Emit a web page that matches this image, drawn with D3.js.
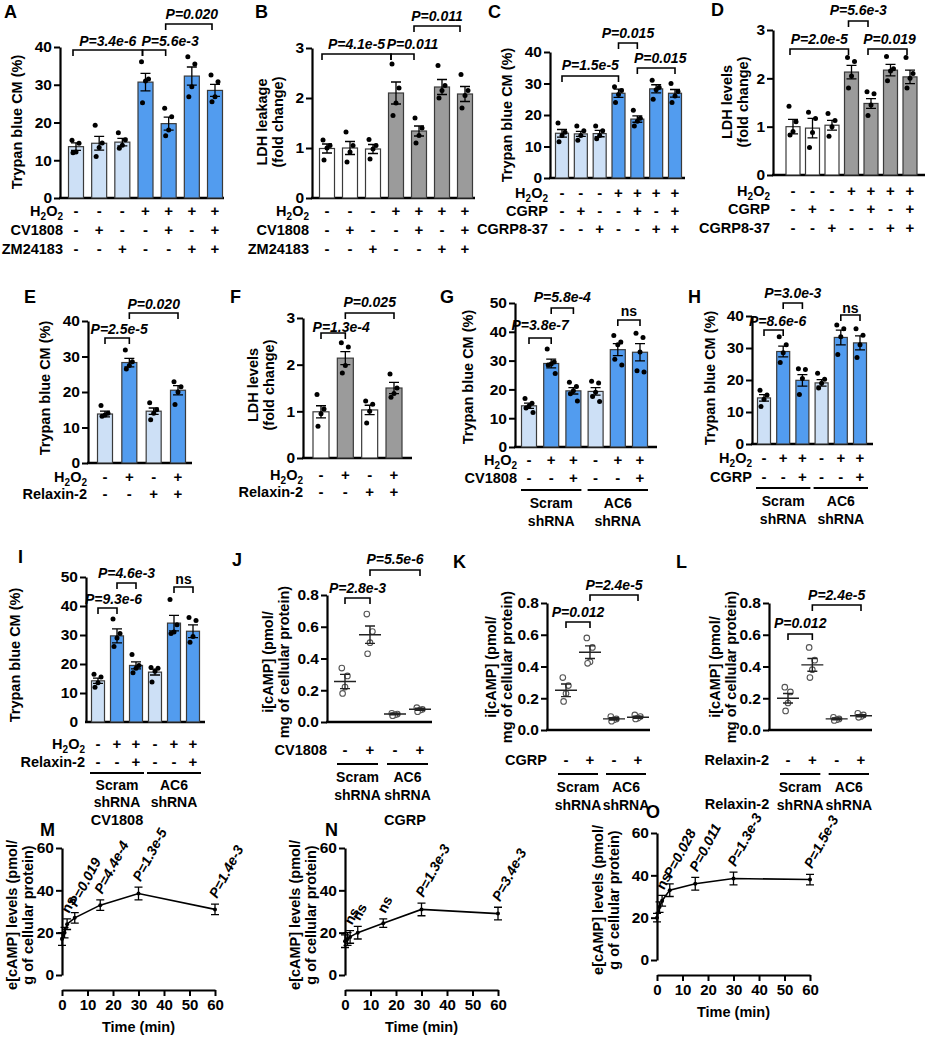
<!DOCTYPE html>
<html><head><meta charset="utf-8">
<script src="https://cdn.jsdelivr.net/npm/d3@7"></script>
<style>body{margin:0;background:#fff}svg{display:block}</style>
</head><body><script>
// ---------- data ----------
const aMeans = [13.6, 14.5, 14.8, 30.7, 19.7, 32.3, 28.5];
const aSems = [1.0, 1.8, 1.0, 2.3, 1.7, 2.4, 1.6];
const aPoints = [[15.3,14.5,12.2,12.0],[19.3,14.6,13.4,11.0],[17.3,15.4,14.0,13.2],[36.1,31.5,31.0,25.2],[23.8,21.5,18.0,16.5],[37.4,35.5,29.5,26.8],[32.6,30.8,26.8,25.5]];
const aPvals = ["P=3.4e-6", "P=5.6e-3", "P=0.020"];

const bMeans = [0.99, 1.0, 0.98, 2.1, 1.34, 2.22, 2.08];
const bSems = [0.09, 0.13, 0.09, 0.22, 0.1, 0.15, 0.15];
const bPoints = [[1.16,1.05,1.0,0.76],[1.32,1.05,0.92,0.72],[1.17,1.05,0.98,0.78],[2.68,2.2,1.9,1.65],[1.6,1.4,1.25,1.1],[2.65,2.25,2.15,2.0],[2.47,2.15,2.05,1.8]];
const bPvals = ["P=4.1e-5", "P=0.011", "P=0.011"];

const cMeans = [14.2, 14.0, 14.1, 26.9, 18.7, 28.3, 26.9];
const cSems = [1.2, 0.8, 1.0, 1.3, 1.0, 1.3, 1.2];
const cPoints = [[17.5,14.5,13.5,11.5],[16.5,15.0,13.5,12.0],[16.5,15.0,13.5,12.5],[29.0,27.8,26.5,24.0],[21.5,19.0,18.0,16.5],[31.0,28.7,28.0,25.0],[30.0,27.5,26.0,24.0]];
const cPvals = ["P=1.5e-5", "P=0.015", "P=0.015"];

const dMeans = [1.0, 0.97, 1.03, 2.13, 1.48, 2.17, 2.03];
const dSems = [0.15, 0.2, 0.1, 0.14, 0.1, 0.12, 0.14];
const dPoints = [[1.42,1.1,0.9,0.83],[1.3,1.17,0.88,0.57],[1.27,1.13,1.0,0.8],[2.43,2.35,2.05,1.8],[1.72,1.68,1.45,1.23],[2.45,2.2,2.15,1.95],[2.43,2.1,2.0,1.8]];
const dPvals = ["P=2.0e-5", "P=5.6e-3", "P=0.019"];

const eMeans = [13.8, 28.3, 14.6, 20.5];
const eSems = [0.8, 1.2, 0.9, 1.3];
const ePoints = [[16.2,14.0,13.5,13.2],[31.8,28.5,27.5,26.5],[17.0,15.0,14.0,12.2],[22.9,21.5,20.0,16.5]];
const ePvals = ["P=2.5e-5", "P=0.020"];

const fMeans = [0.99, 2.14, 1.03, 1.5];
const fSems = [0.13, 0.14, 0.1, 0.12];
const fPoints = [[1.36,1.05,0.95,0.68],[2.47,2.38,1.98,1.82],[1.22,1.15,1.0,0.75],[1.8,1.5,1.38,1.3]];
const fPvals = ["P=1.3e-4", "P=0.025"];

const gMeans = [14.3, 29.0, 19.5, 19.3, 33.8, 32.9];
const gSems = [0.9, 1.5, 1.1, 1.3, 2.1, 3.0];
const gPoints = [[16.8,15.2,14.2,13.5,12.0],[34.0,29.5,28.8,28.5,25.5],[22.5,21.0,19.5,18.5,16.0],[22.8,22.2,19.0,17.5,15.8],[38.7,36.5,35.5,30.5,28.5],[39.5,38.0,33.0,26.5,26.0]];
const gPvals = ["P=3.8e-7", "P=5.8e-4", "ns"];

const hMeans = [14.4, 28.9, 19.9, 19.1, 33.3, 31.6];
const hSems = [1.0, 1.7, 1.8, 1.0, 2.3, 2.2];
const hPoints = [[16.8,15.3,14.0,11.7],[33.5,31.0,28.5,25.5],[23.5,23.3,20.5,15.5],[22.1,20.2,19.0,17.5],[37.2,36.0,33.5,28.0],[36.0,34.0,31.0,27.0]];
const hPvals = ["P=8.6e-6", "P=3.0e-3", "ns"];

const iMeans = [14.2, 29.7, 19.5, 17.2, 34.1, 31.3];
const iSems = [0.9, 2.4, 1.2, 1.0, 2.7, 2.2];
const iPoints = [[16.5,15.5,13.5,12.0],[35.5,30.5,29.0,26.0],[23.3,19.5,18.5,17.0],[18.8,18.5,17.5,13.8],[42.2,33.5,31.0,30.5],[36.0,35.0,29.5,27.5]];
const iPvals = ["P=9.3e-6", "P=4.6e-3", "ns"];

const jMeans = [0.255, 0.55, 0.05, 0.08];
const jSems = [0.045, 0.055, 0.005, 0.007];
const jPoints = [[0.34,0.29,0.22,0.18],[0.68,0.57,0.50,0.43],[0.055,0.05,0.045,0.04],[0.09,0.08,0.075,0.065]];
const jPvals = ["P=2.8e-3", "P=5.5e-6"];

const kMeans = [0.25, 0.49, 0.07, 0.08];
const kSems = [0.04, 0.04, 0.007, 0.007];
const kPoints = [[0.33,0.28,0.23,0.18],[0.58,0.52,0.43,0.42],[0.085,0.07,0.065,0.055],[0.095,0.085,0.075,0.07]];
const kPvals = ["P=0.012", "P=2.4e-5"];

const lMeans = [0.20, 0.41, 0.07, 0.09];
const lSems = [0.03, 0.04, 0.006, 0.007];
const lPoints = [[0.27,0.24,0.17,0.12],[0.52,0.44,0.38,0.33],[0.08,0.07,0.065,0.06],[0.105,0.095,0.085,0.08]];
const lPvals = ["P=0.012", "P=2.4e-5"];

const timeMin = [0, 1, 2, 5, 15, 30, 60];
const mMeans = [17, 20, 24, 27, 33, 38.5, 31];
const mSems = [3, 2.5, 2.5, 2.5, 2.5, 3, 2.5];
const mLabels = ["", "ns", "P=0.019", "P=4.4e-4", "P=1.3e-5", "P=1.4e-3"];
const nMeans = [16, 17, 18, 20, 24.5, 31, 29];
const nSems = [3, 3, 3, 3, 2, 3, 3];
const nLabels = ["", "ns", "ns", "ns", "P=1.3e-3", "P=3.4e-3"];
const oMeans = [20, 25, 28, 33, 36, 38.5, 38];
const oSems = [2, 2.5, 2.5, 3, 3, 3, 2.5];
const oLabels = ["", "ns", "P=0.028", "P=0.011", "P=1.3e-3", "P=1.5e-3"];
const timeTicks = [0, 10, 20, 30, 40, 50, 60];

// ---------- drawing ----------
const FONT = "'Liberation Sans', Arial, Helvetica, sans-serif";
const LIGHT = "#cde0f6", BLUE = "#529cef", GREY = "#9b9b9b", WHITE = "#ffffff";
const jitter = [-4, 3, 0, -3, 4];

const svg = d3.select("body").append("svg")
  .attr("width", 926).attr("height", 1050)
  .style("font-family", FONT);

function label(t, x, y) {
  svg.append("text").attr("x", x).attr("y", y)
    .style("font-size", "18px").style("font-weight", "bold").text(t);
}

function yTitle(lines, x, yc) {
  lines.forEach((s, i) => {
    svg.append("text")
      .attr("transform", `translate(${x + i * 16},${yc}) rotate(-90)`)
      .attr("text-anchor", "middle")
      .style("font-size", "14.5px").style("font-weight", "bold")
      .text(s);
  });
}

function rowText(name, xEnd, y) {
  const t = svg.append("text").attr("x", xEnd).attr("y", y)
    .attr("text-anchor", "end")
    .style("font-size", "14.5px").style("font-weight", "bold");
  if (name === "H2O2") {
    t.append("tspan").text("H");
    t.append("tspan").attr("dy", 4).style("font-size", "10px").text("2");
    t.append("tspan").attr("dy", -4).text("O");
    t.append("tspan").attr("dy", 4).style("font-size", "10px").text("2");
  } else t.text(name);
}

function signs(str, x, y) {
  [...str].forEach((c, i) => {
    svg.append("text").attr("x", x(i)).attr("y", y)
      .attr("text-anchor", "middle")
      .style("font-size", "15px").style("font-weight", "bold")
      .text(c === "+" ? "+" : "-");
  });
}

function bracket(x1, x2, y, text, ty, pad) {
  const g = svg.append("g");
  g.append("path")
    .attr("d", `M${x1},${y + 6}V${y}H${x2}V${y + 6}`)
    .attr("fill", "none").attr("stroke", "#000").attr("stroke-width", 1.6);
  g.append("text").attr("x", (x1 + x2) / 2 + (pad || 0)).attr("y", ty)
    .attr("text-anchor", "middle")
    .style("font-size", "14px").style("font-weight", "bold")
    .style("font-style", text === "ns" ? "normal" : "italic")
    .text(text);
}

function yAxis(y, ax, ticks, fmt) {
  const g = svg.append("g").attr("transform", `translate(${ax},0)`)
    .call(d3.axisLeft(y).tickValues(ticks).tickSize(6).tickSizeOuter(0).tickFormat(fmt || d3.format("d")));
  g.select(".domain").attr("stroke-width", 2.2);
  g.selectAll(".tick line").attr("stroke-width", 2);
  g.selectAll(".tick text").style("font-size", "15.5px").style("font-weight", "bold")
    .style("font-family", FONT).attr("fill", "#000").attr("x", -8);
  return g;
}

function barPanel(p) {
  const y = d3.scaleLinear().domain([0, p.yMax]).range([p.y0, p.yTop]);
  const x = d3.scalePoint().domain(d3.range(p.means.length)).range([p.x0, p.x1]);
  const bw = p.bw;
  yAxis(y, p.ax, p.ticks);
  svg.append("line").attr("x1", p.ax - 1).attr("x2", p.axEnd)
    .attr("y1", y(0)).attr("y2", y(0)).attr("stroke", "#000").attr("stroke-width", 2.5);
  const g = svg.append("g");
  p.means.forEach((m, i) => {
    g.append("rect").attr("x", x(i) - bw / 2).attr("y", y(m))
      .attr("width", bw).attr("height", y(0) - y(m))
      .attr("fill", p.colors[i]).attr("stroke", "#3a3a3a").attr("stroke-width", 1.2);
  });
  p.means.forEach((m, i) => {
    const s = p.sems[i];
    g.append("path")
      .attr("d", `M${x(i)},${y(m + s)}V${y(m - s)}M${x(i) - 5},${y(m + s)}H${x(i) + 5}M${x(i) - 5},${y(m - s)}H${x(i) + 5}`)
      .attr("stroke", "#000").attr("stroke-width", 1.3).attr("fill", "none");
    p.points[i].forEach((v, k) => {
      g.append("circle").attr("cx", x(i) + jitter[k]).attr("cy", y(v)).attr("r", 2.5).attr("fill", "#000");
    });
  });
  const sh = p.bshift || 0;
  p.brackets.forEach((b, k) => bracket(x(b[0]) + sh, x(b[1]) + sh, b[2], p.pvals[k], b[3], b[4]));
  p.rows.forEach((r, k) => {
    rowText(r[0], p.rowX, p.rowY[k]);
    signs(r[1], x, p.rowY[k]);
  });
  return x;
}

function shLabels(x, lineY, ranges, gap) {
  const dy = gap || 18;
  ranges.forEach((r, k) => {
    svg.append("line").attr("x1", x(r[0]) - 8).attr("x2", x(r[1]) + 8)
      .attr("y1", lineY).attr("y2", lineY).attr("stroke", "#000").attr("stroke-width", 2);
    const cx = (x(r[0]) + x(r[1])) / 2;
    [k === 0 ? "Scram" : "AC6", "shRNA"].forEach((s, j) => {
      svg.append("text").attr("x", cx).attr("y", lineY + dy + j * 17.5)
        .attr("text-anchor", "middle").style("font-size", "14px").style("font-weight", "bold").text(s);
    });
  });
}

// Panel A
label("A", 4, 18);
yTitle(["Trypan blue CM (%)"], 22, 122);
barPanel({ means: aMeans, sems: aSems, points: aPoints, pvals: aPvals,
  yMax: 40, y0: 198, yTop: 47, ticks: [0, 10, 20, 30, 40], ax: 60, axEnd: 224,
  x0: 76, x1: 215, bw: 15, colors: [LIGHT, LIGHT, LIGHT, BLUE, BLUE, BLUE, BLUE], bshift: -3,
  brackets: [[0, 3, 50, 46, 0], [3, 4, 50, 46, 16], [4, 6, 24, 19, 3]],
  rows: [["H2O2", "---++++"], ["CV1808", "-+--+-+"], ["ZM24183", "--+--++"]],
  rowX: 63, rowY: [216, 235, 254] });

// Panel B
label("B", 255, 18);
yTitle(["LDH leakage", "(fold change)"], 267, 122);
barPanel({ means: bMeans, sems: bSems, points: bPoints, pvals: bPvals,
  yMax: 3, y0: 198, yTop: 48, ticks: [0, 1, 2, 3], ax: 312, axEnd: 475,
  x0: 327, x1: 465, bw: 15, colors: [WHITE, WHITE, WHITE, GREY, GREY, GREY, GREY], bshift: -5,
  brackets: [[0, 3, 54, 49, 0], [3, 4, 54, 49, 10], [4, 6, 26, 21, 0]],
  rows: [["H2O2", "---++++"], ["CV1808", "-+--+-+"], ["ZM24183", "--+--++"]],
  rowX: 309, rowY: [216, 235, 254] });

// Panel C
label("C", 488, 18);
yTitle(["Trypan blue CM (%)"], 512, 115);
barPanel({ means: cMeans, sems: cSems, points: cPoints, pvals: cPvals,
  yMax: 40, y0: 178, yTop: 52, ticks: [0, 10, 20, 30, 40], ax: 550, axEnd: 685,
  x0: 562, x1: 675, bw: 13, colors: [LIGHT, LIGHT, LIGHT, BLUE, BLUE, BLUE, BLUE],
  brackets: [[0, 3, 76, 70, 0], [3, 4, 43, 38, 0], [4, 6, 68, 63, 4]],
  rows: [["H2O2", "---++++"], ["CGRP", "-+--+-+"], ["CGRP8-37", "--+--++"]],
  rowX: 548, rowY: [198, 216, 234] });

// Panel D
label("D", 711, 16);
yTitle(["LDH levels", "(fold change)"], 732, 102);
barPanel({ means: dMeans, sems: dSems, points: dPoints, pvals: dPvals,
  yMax: 3, y0: 175, yTop: 30, ticks: [0, 1, 2, 3], ax: 773, axEnd: 925,
  x0: 793, x1: 910, bw: 14, colors: [WHITE, WHITE, WHITE, GREY, GREY, GREY, GREY], bshift: -3,
  brackets: [[0, 3, 49, 44, 0], [3, 4, 21, 15, 0], [4, 6, 49, 44, 2]],
  rows: [["H2O2", "---++++"], ["CGRP", "-+--+-+"], ["CGRP8-37", "--+--++"]],
  rowX: 770, rowY: [196, 214, 233] });

// Panel E
label("E", 24, 303);
yTitle(["Trypan blue CM (%)"], 50, 388);
barPanel({ means: eMeans, sems: eSems, points: ePoints, pvals: ePvals,
  yMax: 40, y0: 463, yTop: 321, ticks: [0, 10, 20, 30, 40], ax: 88, axEnd: 192,
  x0: 105, x1: 178, bw: 15, colors: [LIGHT, BLUE, LIGHT, BLUE],
  brackets: [[0, 1, 338, 334, 2], [1, 3, 313, 309, 0]],
  rows: [["H2O2", "-+-+"], ["Relaxin-2", "--++"]],
  rowX: 87, rowY: [482, 499] });

// Panel F
label("F", 230, 303);
yTitle(["LDH levels", "(fold change)"], 258, 385);
barPanel({ means: fMeans, sems: fSems, points: fPoints, pvals: fPvals,
  yMax: 3, y0: 458, yTop: 318, ticks: [0, 1, 2, 3], ax: 303, axEnd: 412,
  x0: 321, x1: 394, bw: 16, colors: [WHITE, GREY, WHITE, GREY],
  brackets: [[0, 1, 333, 332, 8], [1, 3, 313, 307, 0]],
  rows: [["H2O2", "-+-+"], ["Relaxin-2", "--++"]],
  rowX: 303, rowY: [480, 497] });

// Panel G
label("G", 440, 303);
yTitle(["Trypan blue CM (%)"], 473, 377);
const xg = barPanel({ means: gMeans, sems: gSems, points: gPoints, pvals: gPvals,
  yMax: 50, y0: 447, yTop: 303, ticks: [0, 10, 20, 30, 40, 50], ax: 515, axEnd: 657,
  x0: 529, x1: 640, bw: 15, colors: [LIGHT, BLUE, BLUE, LIGHT, BLUE, BLUE],
  brackets: [[0, 1, 338, 330, 0], [1, 2, 308, 302, 0], [4, 5, 320, 316, 0]],
  rows: [["H2O2", "-++-++"], ["CV1808", "--+--+"]],
  rowX: 517, rowY: [465, 483] });
shLabels(xg, 490, [[0, 2], [3, 5]]);

// Panel H
label("H", 688, 303);
yTitle(["Trypan blue CM (%)"], 715, 378);
const xh = barPanel({ means: hMeans, sems: hSems, points: hPoints, pvals: hPvals,
  yMax: 40, y0: 444, yTop: 316, ticks: [0, 10, 20, 30, 40], ax: 752, axEnd: 873,
  x0: 764, x1: 860, bw: 13, colors: [LIGHT, BLUE, BLUE, LIGHT, BLUE, BLUE],
  brackets: [[0, 1, 330, 326, 4], [1, 2, 303, 298, 0], [4, 5, 315, 313, 0]],
  rows: [["H2O2", "-++-++"], ["CGRP", "--+--+"]],
  rowX: 752, rowY: [463, 482] });
shLabels(xh, 488, [[0, 2], [3, 5]]);

// Panel I
label("I", 18, 563);
yTitle(["Trypan blue CM (%)"], 20, 655);
const xi = barPanel({ means: iMeans, sems: iSems, points: iPoints, pvals: iPvals,
  yMax: 50, y0: 722, yTop: 577, ticks: [10, 20, 30, 40, 50], ax: 86, axEnd: 205,
  x0: 98, x1: 193, bw: 13, colors: [LIGHT, BLUE, BLUE, LIGHT, BLUE, BLUE],
  brackets: [[0, 1, 608, 604, 6], [1, 2, 583, 578, 0], [4, 5, 587, 584, 0]],
  rows: [["H2O2", "-++-++"], ["Relaxin-2", "--+--+"]],
  rowX: 85, rowY: [749, 767] });
shLabels(xi, 773, [[0, 2], [3, 5]], 16.5);
svg.append("text").attr("x", 78).attr("y", 727).attr("text-anchor", "end")
  .style("font-size", "15.5px").style("font-weight", "bold").text("0");

// scatter panels
function scatterPanel(p) {
  const y = d3.scaleLinear().domain([0, 0.8]).range([p.y0, p.yTop]);
  const x = d3.scalePoint().domain(d3.range(4)).range([p.x0, p.x1]);
  yAxis(y, p.ax, [0, 0.2, 0.4, 0.6, 0.8], d3.format(".1f"));
  svg.append("line").attr("x1", p.ax - 1).attr("x2", p.axEnd)
    .attr("y1", y(0)).attr("y2", y(0)).attr("stroke", "#000").attr("stroke-width", 2.5);
  p.means.forEach((m, i) => {
    const s = p.sems[i];
    p.points[i].forEach((v, k) => {
      svg.append("circle").attr("cx", x(i) + jitter[k] * 0.8).attr("cy", y(v)).attr("r", 2.8)
        .attr("fill", "#fff").attr("stroke", "#555").attr("stroke-width", 1.1);
    });
    svg.append("path")
      .attr("d", `M${x(i) - 11},${y(m)}H${x(i) + 11}M${x(i)},${y(m + s)}V${y(m - s)}M${x(i) - 5},${y(m + s)}H${x(i) + 5}M${x(i) - 5},${y(m - s)}H${x(i) + 5}`)
      .attr("stroke", "#222").attr("stroke-width", 1.4).attr("fill", "none");
  });
  p.brackets.forEach((b, k) => bracket(x(b[0]), x(b[1]), b[2], p.pvals[k], b[3], b[4]));
  rowText(p.treat, p.rowX, p.rowY);
  signs("-+-+", x, p.rowY);
  shLabels(x, p.rowY + 9, [[0, 1], [2, 3]]);
}

label("J", 232, 566);
yTitle(["i[cAMP] (pmol/", "mg of cellular protein)"], 273, 662);
scatterPanel({ means: jMeans, sems: jSems, points: jPoints, pvals: jPvals,
  y0: 722, yTop: 595, ax: 327, axEnd: 432, x0: 345, x1: 420,
  brackets: [[0, 1, 598, 593, 0], [1, 3, 570, 564, 0]],
  treat: "CV1808", rowX: 327, rowY: 755 });

label("K", 453, 568);
yTitle(["i[cAMP] (pmol/", "mg of cellular protein)"], 496, 667);
scatterPanel({ means: kMeans, sems: kSems, points: kPoints, pvals: kPvals,
  y0: 730, yTop: 603, ax: 547, axEnd: 650, x0: 566, x1: 638,
  brackets: [[0, 1, 622, 617, 0], [1, 3, 595, 590, 0]],
  treat: "CGRP", rowX: 547, rowY: 765 });

label("L", 676, 568);
yTitle(["i[cAMP] (pmol/", "mg of cellular protein)"], 720, 667);
scatterPanel({ means: lMeans, sems: lSems, points: lPoints, pvals: lPvals,
  y0: 730, yTop: 603, ax: 769, axEnd: 872, x0: 788, x1: 861,
  brackets: [[0, 1, 634, 628, 0], [1, 3, 605, 600, 0]],
  treat: "Relaxin-2", rowX: 769, rowY: 765 });

// time course panels
function linePanel(p) {
  const y = d3.scaleLinear().domain([0, 60]).range([p.y0, p.yTop]);
  const x = d3.scaleLinear().domain([0, 60]).range([p.ax, p.xEnd]);
  yAxis(y, p.ax, [0, 20, 40, 60]);
  const gx = svg.append("g").attr("transform", `translate(0,${p.xAxisY})`)
    .call(d3.axisBottom(x).tickValues(timeTicks).tickSize(6).tickSizeOuter(0));
  gx.select(".domain").attr("stroke-width", 2.2);
  gx.selectAll(".tick line").attr("stroke-width", 2);
  gx.selectAll(".tick text").style("font-size", "15px").style("font-weight", "bold")
    .style("font-family", FONT).attr("fill", "#000");
  svg.append("text").attr("x", (p.ax + p.xEnd) / 2).attr("y", p.xAxisY + 42)
    .attr("text-anchor", "middle").style("font-size", "14.5px").style("font-weight", "bold").text("Time (min)");
  svg.append("text").attr("x", p.titleX).attr("y", p.titleY)
    .attr("text-anchor", "middle").style("font-size", "14.5px").style("font-weight", "bold").text(p.title);
  const line = d3.line().x((d, i) => x(timeMin[i])).y(d => y(d));
  svg.append("path").attr("d", line(p.means)).attr("fill", "none")
    .attr("stroke", "#000").attr("stroke-width", 1.6);
  p.means.forEach((m, i) => {
    const s = p.sems[i], cx = x(timeMin[i]);
    svg.append("path")
      .attr("d", `M${cx},${y(m + s)}V${y(m - s)}M${cx - 4},${y(m + s)}H${cx + 4}M${cx - 4},${y(m - s)}H${cx + 4}`)
      .attr("stroke", "#000").attr("stroke-width", 1.3).attr("fill", "none");
    svg.append("circle").attr("cx", cx).attr("cy", y(m)).attr("r", 2).attr("fill", "#000");
  });
  p.labels.forEach((t, k) => {
    if (!t) return;
    const i = k + 1;
    const cx = x(timeMin[i]), cy = y(p.means[i] + p.sems[i]) - 5;
    svg.append("text").attr("transform", `translate(${cx + 2},${cy}) rotate(-62)`)
      .style("font-size", "14px").style("font-weight", "bold")
      .style("font-style", t === "ns" ? "normal" : "italic").text(t);
  });
}

label("M", 40, 836);
yTitle(["e[cAMP] levels (pmol/", "g of cellular protein)"], 17, 915);
linePanel({ means: mMeans, sems: mSems, labels: mLabels, title: "CV1808", titleX: 117, titleY: 825,
  ax: 62, xEnd: 215, y0: 975, yTop: 848, xAxisY: 990 });

label("N", 325, 836);
yTitle(["e[cAMP] levels (pmol/", "g of cellular protein)"], 300, 915);
linePanel({ means: nMeans, sems: nSems, labels: nLabels, title: "CGRP", titleX: 405, titleY: 825,
  ax: 345, xEnd: 498, y0: 975, yTop: 848, xAxisY: 990 });

label("O", 646, 818);
yTitle(["e[cAMP] levels (pmol/", "g of cellular protein)"], 603, 900);
linePanel({ means: oMeans, sems: oSems, labels: oLabels, title: "Relaxin-2", titleX: 737, titleY: 809,
  ax: 657, xEnd: 810, y0: 960, yTop: 833, xAxisY: 975 });
</script></body></html>
